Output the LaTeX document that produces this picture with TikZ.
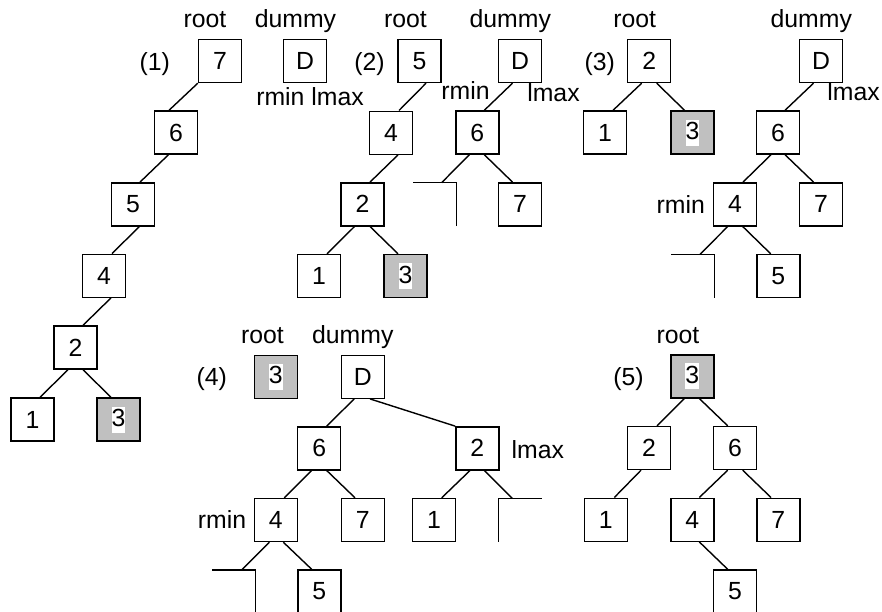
\documentclass[tikz,border=0pt]{standalone}
\usepackage{fontspec}
\setmainfont{Liberation Sans}
\definecolor{shadegray}{HTML}{C0C0C0}
\newcommand\whitebg[1]{{\setlength{\fboxsep}{0pt}\colorbox{white}{\rule[-6pt]{0pt}{26pt}#1}}}
\newcommand\treeedge[4]{\draw[link] ([xshift=#2pt]#1.south) -- ([xshift=#4pt]#3.north);}
\begin{document}
\begin{tikzpicture}[x=1pt,y=-1pt,
  every node/.style={font=\fontsize{24.8}{29}\selectfont},
  box/.style={draw, line width=1.4pt, minimum width=43pt, minimum height=43pt, inner sep=0pt},
  hot/.style={box, fill=shadegray},
  stubbox/.style={minimum width=43pt, minimum height=43pt, inner sep=0pt},
  link/.style={line width=1.4pt},
  lbl/.style={anchor=base, inner sep=0pt}]
\useasboundingbox (0,0) rectangle (882,611);

% ---------- panel (1)
\node[lbl] (aroot) at (205,27) {root};
\node[lbl] (adummy) at (295.5,27) {dummy};
\node[lbl] (anum) at (154.7,70) {(1)};
\node[lbl] (armax) at (310,105) {rmin lmax};
\node[box] (a7) at (220,61) {7};
\node[box] (aD) at (305,61) {D};
\node[box] (a6) at (176,132.5) {6};
\node[box] (a5) at (133,204.3) {5};
\node[box] (a4) at (104,275.7) {4};
\node[box] (a2) at (75.5,347.5) {2};
\node[box] (a1) at (32.5,419.5) {1};
\node[hot] (a3) at (118.5,419.5) {\whitebg{3}};
\draw[link] (a7.south west) -- ([xshift=-7pt]a6.north);
\treeedge{a6}{-7.5}{a5}{7}
\treeedge{a5}{6.5}{a4}{8}
\treeedge{a4}{7}{a2}{7.5}
\treeedge{a2}{-7.5}{a1}{7.5}
\treeedge{a2}{7.5}{a3}{-7.5}

% ---------- panel (2)
\node[lbl] (broot) at (405.5,27) {root};
\node[lbl] (bdummy) at (510.3,27) {dummy};
\node[lbl] (bnum) at (369.5,70) {(2)};
\node[lbl] (brmin) at (465.5,99) {rmin};
\node[lbl] (blmax) at (553.5,101) {lmax};
\node[box] (b5) at (419.5,61) {5};
\node[box] (b4) at (391,132.7) {4};
\node[box] (b2) at (362.5,204.3) {2};
\node[box] (b1) at (319,276) {1};
\node[hot] (b3) at (405.5,276) {\whitebg{3}};
\node[box] (bD) at (520,61) {D};
\node[box] (b6) at (477.3,132.5) {6};
\node[box] (b7) at (520,204.3) {7};
\node[stubbox] (bs) at (434.5,204.3) {};
\draw[link] (bs.south east) -- (bs.north east) -- (bs.north west);
\treeedge{b5}{6.5}{b4}{8}
\treeedge{b4}{7}{b2}{7.5}
\treeedge{b2}{-8}{b1}{8}
\treeedge{b2}{7.5}{b3}{-7.5}
\treeedge{bD}{-7.5}{b6}{7}
\treeedge{b6}{7}{b7}{-7.5}
\treeedge{b6}{-8}{bs}{7.2}

% ---------- panel (3)
\node[lbl] (croot) at (634.7,27) {root};
\node[lbl] (cnum) at (599.7,70) {(3)};
\node[lbl] (cdummy) at (811.3,27) {dummy};
\node[lbl] (clmax) at (853.6,100) {lmax};
\node[lbl] (crmin) at (680.7,213) {rmin};
\node[box] (c2) at (649.2,61) {2};
\node[box] (c1) at (605,132.5) {1};
\node[hot] (c3) at (692.5,132.5) {\whitebg{3}};
\node[box] (cD) at (821,61) {D};
\node[box] (c6) at (778,132.5) {6};
\node[box] (c4) at (735,204.3) {4};
\node[box] (c7) at (821,204.3) {7};
\node[stubbox] (cs) at (692.5,276) {};
\node[box] (c5) at (778.3,276) {5};
\draw[link] (cs.south east) -- (cs.north east) -- (cs.north west);
\treeedge{c2}{-7.5}{c1}{8}
\treeedge{c2}{7.5}{c3}{-8}
\treeedge{cD}{-7.5}{c6}{7}
\treeedge{c6}{-7}{c4}{8}
\treeedge{c6}{7}{c7}{-7.5}
\treeedge{c4}{-7.3}{cs}{7.5}
\treeedge{c4}{7.7}{c5}{-7.6}

% ---------- panel (4)
\node[lbl] (dnum) at (211.7,385) {(4)};
\node[lbl] (droot) at (262.5,343) {root};
\node[lbl] (ddummy) at (352.8,343) {dummy};
\node[lbl] (dlmax) at (537.8,458.5) {lmax};
\node[lbl] (drmin) at (222,528.6) {rmin};
\node[hot] (d3) at (275.8,376.7) {\whitebg{3}};
\node[box] (dD) at (362.7,376.7) {D};
\node[box] (d6) at (319.2,448.3) {6};
\node[box] (d2) at (477.3,448.3) {2};
\node[box] (d4) at (275.8,520) {4};
\node[box] (d7) at (362.7,520) {7};
\node[box] (d1) at (434,520) {1};
\node[stubbox] (dsr) at (520,520) {};
\node[stubbox] (dsl) at (233.7,591.5) {};
\node[box] (d5) at (319.3,591.5) {5};
\draw[link] (dsr.south west) -- (dsr.north west) -- (dsr.north east);
\draw[link] (dsl.south east) -- (dsl.north east) -- (dsl.north west);
\treeedge{dD}{-8.5}{d6}{7.5}
\draw[link] ([xshift=7.3pt]dD.south) -- (d2.north west);
\treeedge{d6}{-7.5}{d4}{8.5}
\treeedge{d6}{7.5}{d7}{-7.7}
\treeedge{d2}{-7.3}{d1}{7.7}
\treeedge{d2}{7}{dsr}{-7.7}
\treeedge{d4}{-6.5}{dsl}{8}
\treeedge{d4}{7.5}{d5}{-7.6}

% ---------- panel (5)
\node[lbl] (eroot) at (678,343) {root};
\node[lbl] (enum) at (628.5,385) {(5)};
\node[hot] (e3) at (692.3,376.3) {\whitebg{3}};
\node[box] (e2) at (649,448) {2};
\node[box] (e6) at (735,448) {6};
\node[box] (e1) at (605.8,519.7) {1};
\node[box] (e4) at (692.3,519.7) {4};
\node[box] (e7) at (778.3,519.7) {7};
\node[box] (e5) at (735,591.5) {5};
\treeedge{e3}{-8}{e2}{8}
\treeedge{e3}{7}{e6}{-7.3}
\treeedge{e2}{-8}{e1}{8.5}
\treeedge{e6}{-7.3}{e4}{7}
\treeedge{e6}{7.7}{e7}{-7.3}
\treeedge{e4}{7}{e5}{-7.3}
\end{tikzpicture}
\end{document}
